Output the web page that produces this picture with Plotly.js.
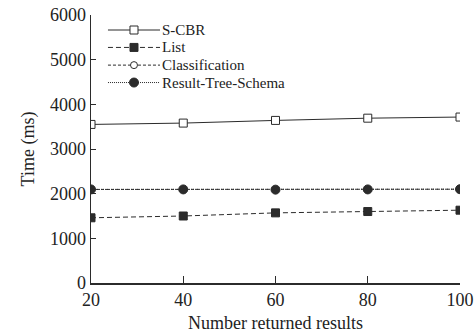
<!DOCTYPE html>
<html>
<head>
<meta charset="utf-8">
<script src="https://cdn.plot.ly/plotly-3.0.1.min.js"></script>
<style>html,body{margin:0;padding:0;background:#fff;}#chart{width:476px;height:333px;}</style>
</head>
<body>
<div id="chart"></div>
<script>
var xValues = [20, 40, 60, 80, 100];
var scbr = [3550, 3580, 3640, 3690, 3715];
var list = [1460, 1500, 1570, 1600, 1630];
var classification = [2095, 2095, 2090, 2095, 2100];
var resultTree = [2095, 2095, 2090, 2095, 2100];
var seriesNames = ['S-CBR', 'List', 'Classification', 'Result-Tree-Schema'];
var yTicks = [0, 1000, 2000, 3000, 4000, 5000, 6000];
var xTicks = [20, 40, 60, 80, 100];

var ink = '#2b2b2b';
var styles = [
  {dash: 'solid', shape: 'square', filled: false, size: 8},
  {dash: '5px,3px', shape: 'square', filled: true, size: 8},
  {dash: '3px,2px', shape: 'circle', filled: false, size: 7},
  {dash: '1px,1px', shape: 'circle', filled: true, size: 9}
];
var seriesValues = [scbr, list, classification, resultTree];

var traces = seriesValues.map(function (vals, i) {
  var s = styles[i];
  return {x: xValues, y: vals, name: seriesNames[i], mode: 'lines+markers', showlegend: false,
    line: {color: ink, width: 1, dash: s.dash},
    marker: {symbol: s.shape, size: s.size, color: s.filled ? ink : '#fff', line: {width: 1, color: ink}}};
});

// hand-drawn legend (compact rows like the reference)
var legRowY = [0.944, 0.879, 0.813, 0.748];
var legX0 = 0.046, legX1 = 0.187, legXm = 0.1165, legTextX = 0.19;
var shapes = [];
var annotations = [];
seriesNames.forEach(function (name, i) {
  var s = styles[i];
  var y = legRowY[i];
  shapes.push({type: 'line', xref: 'paper', yref: 'paper', x0: legX0, x1: legX1, y0: y, y1: y,
               line: {color: ink, width: 1, dash: s.dash}});
  var half = s.size / 2;
  shapes.push({type: s.shape === 'square' ? 'rect' : 'circle',
               xref: 'paper', yref: 'paper', xsizemode: 'pixel', ysizemode: 'pixel',
               xanchor: legXm, yanchor: y, x0: -half, x1: half, y0: -half, y1: half,
               fillcolor: s.filled ? ink : '#fff', line: {color: ink, width: 1}});
  annotations.push({xref: 'paper', yref: 'paper', x: legTextX, y: y, xanchor: 'left', yanchor: 'middle',
                    text: name, showarrow: false, borderpad: 0, font: {size: 15, color: '#222'}});
});

var layout = {
  width: 476, height: 333,
  margin: {l: 91, r: 16, t: 15, b: 50},
  paper_bgcolor: '#fff', plot_bgcolor: '#fff',
  font: {family: '"Liberation Serif", "DejaVu Serif", serif', color: '#222', size: 18},
  showlegend: false,
  shapes: shapes,
  annotations: annotations,
  xaxis: {range: [20, 100], tickvals: xTicks, ticktext: xTicks.map(String),
          ticks: 'inside', ticklen: 7, tickcolor: ink, showline: true, linecolor: ink, linewidth: 1.5,
          showgrid: false, zeroline: false, tickfont: {size: 18},
          title: {text: 'Number returned results', font: {size: 18}, standoff: 8}},
  yaxis: {range: [0, 6000], tickvals: yTicks, ticktext: yTicks.map(String),
          ticks: 'inside', ticklen: 5, tickcolor: ink, showline: true, linecolor: ink, linewidth: 1.5,
          showgrid: false, zeroline: false, tickfont: {size: 18},
          title: {text: 'Time (ms)', font: {size: 18}, standoff: 10}}
};

Plotly.newPlot('chart', traces, layout, {displayModeBar: false, staticPlot: true});
</script>
</body>
</html>
